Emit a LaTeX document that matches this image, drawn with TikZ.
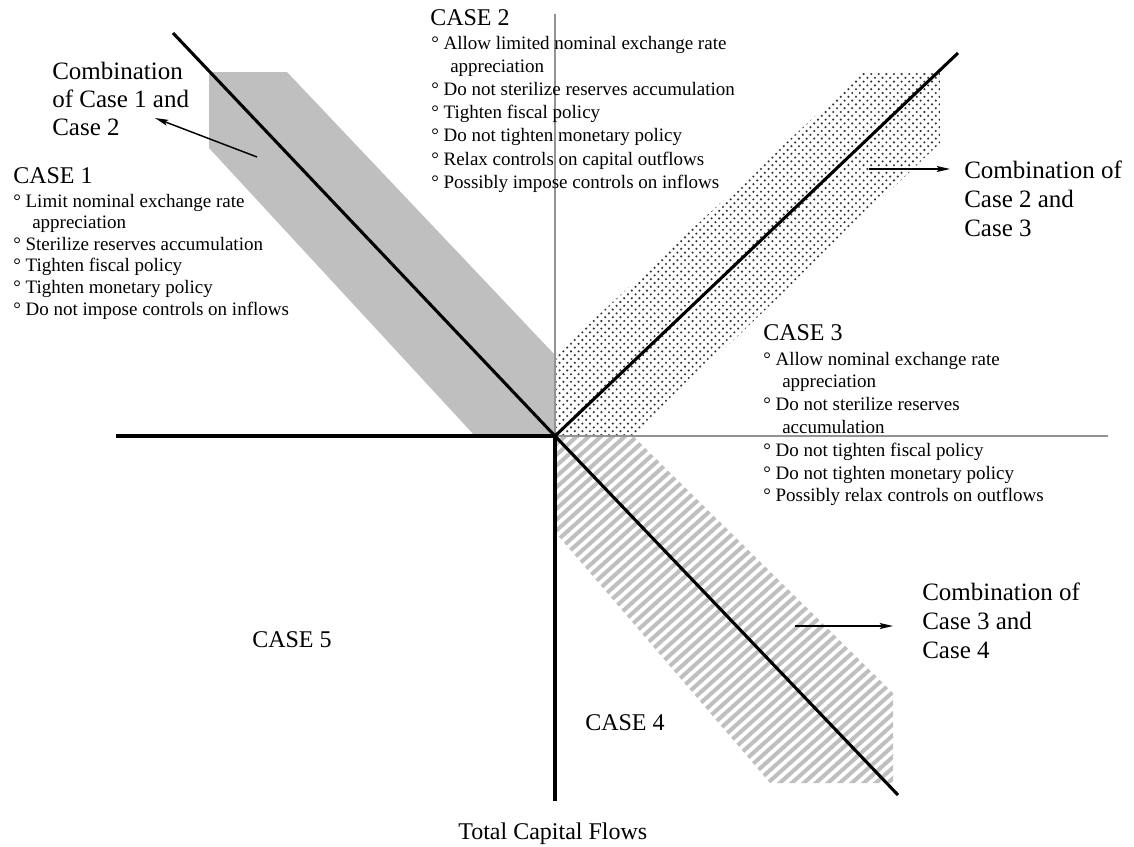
\documentclass[tikz,border=0pt]{standalone}
\usepackage{fontspec}
\setmainfont{Liberation Serif}
\usetikzlibrary{arrows.meta}
\newcommand\bpt{°\ }
\newcommand\ind{\hspace*{1em}}
\newcommand\blines[1]{\begin{tabular}[t]{@{}l@{}}#1\end{tabular}}
\tikzset{
  txt/.style={anchor=base west, inner sep=0pt},
  titlefont/.style={font=\fontsize{18}{21}\selectfont},
  combo/.style={font=\fontsize{18.75}{#1}\selectfont},
  bullets/.style={font=\fontsize{14.25}{#1}\selectfont},
  thick axis/.style={line width=2.3pt, black},
  thin axis/.style={line width=0.9pt, gray!85},
  arr/.style={line width=1.1pt, -{Stealth[length=10pt,width=4.5pt,inset=2pt]}},
  stripe/.style={draw=gray!50, line width=3pt},
  dotrow/.style={draw=black!80, line width=1.75pt, line cap=round, dash pattern=on 0pt off 5.7pt},
}
\begin{document}
\begin{tikzpicture}[x={(0.75pt,0)}, y={(0,-0.75pt)}]
\useasboundingbox (0,0) rectangle (1134,846);
% solid band
\fill[gray!50] (209,72) -- (287,72) -- (555,355) -- (555,436) -- (475,436) -- (209,148) -- cycle;
% dotted band
\begin{scope}
\clip (555,436) -- (555,355) -- (862,73) -- (940,73) -- (940,143) -- (633,436) -- cycle;
\foreach \r in {0,...,96} {
  \pgfmathsetmacro\yy{74+\r*3.8}
  \pgfmathsetmacro\ph{mod(\r,2)*2.85}
  \draw[dotrow, dash phase=\ph pt] (552,\yy) -- (945,\yy);
}
\end{scope}
% striped band
\begin{scope}
\clip (555,436) -- (633,436) -- (893,693) -- (893,783) -- (770,783) -- (555,532) -- cycle;
\foreach \c in {0,...,70} {
  \draw[stripe] (480,{880+\c*10.8-0.9*480}) -- (950,{880+\c*10.8-0.9*950});
}
\end{scope}
% axes
\coordinate (O) at (555,436);
\coordinate (gt) at (555,14);
\coordinate (gr) at (1108,436);
\coordinate (lf) at (116,436);
\coordinate (dn) at (555,801);
\coordinate (ul) at (173,33);
\coordinate (ur) at (958,53);
\coordinate (lr) at (898,795);
\draw[thin axis] (O) -- (gt);
\draw[thin axis] (O) -- (gr);
\draw[thick axis] (lf) -- (O) -- (dn);
\draw[thick axis] (ul) -- (O);
\draw[thick axis] (O) -- (ur);
\draw[thick axis] (O) -- (lr);
% texts
\node[txt, combo=21pt] (c12) at (52,79) {\blines{Combination\\of Case 1 and\\Case 2}};
\node[txt, titlefont] (case1) at (13,183) {CASE 1};
\node[txt, bullets=16.2pt] (l1) at (13,207) {\blines{\bpt Limit nominal exchange rate\\\ind appreciation\\\bpt Sterilize reserves accumulation\\\bpt Tighten fiscal policy\\\bpt Tighten monetary policy\\\bpt Do not impose controls on inflows}};
\node[txt, titlefont] (case2) at (430,26) {CASE 2};
\node[txt, bullets=17.4pt] (l2) at (431,49) {\blines{\bpt Allow limited nominal exchange rate\\\ind appreciation\\\bpt Do not sterilize reserves accumulation\\\bpt Tighten fiscal policy\\\bpt Do not tighten monetary policy\\\bpt Relax controls on capital outflows\\\bpt Possibly impose controls on inflows}};
\node[txt, titlefont] (case3) at (763,340) {CASE 3};
\node[txt, bullets=17.1pt] (l3) at (763,365) {\blines{\bpt Allow nominal exchange rate\\\ind appreciation\\\bpt Do not sterilize reserves\\\ind accumulation\\\bpt Do not tighten fiscal policy\\\bpt Do not tighten monetary policy\\\bpt Possibly relax controls on outflows}};
\node[txt, combo=22pt] (c23) at (964,178) {\blines{Combination of\\Case 2 and\\Case 3}};
\node[txt, combo=21.75pt] (c34) at (922,600) {\blines{Combination of\\Case 3 and\\Case 4}};
\node[txt, titlefont] (case5) at (252,647) {CASE 5};
\node[txt, titlefont] (case4) at (585,730) {CASE 4};
\node[txt, titlefont] (tcf) at (458,839) {Total Capital Flows};
% arrows
\coordinate (t12) at (257,157);
\coordinate (h12) at (155,118);
\coordinate (t23) at (869,169);
\coordinate (h23) at (950,169);
\coordinate (t34) at (795,626);
\coordinate (h34) at (893,626);
\draw[arr] (t12) -- (h12);
\draw[arr] (t23) -- (h23);
\draw[arr] (t34) -- (h34);
\end{tikzpicture}
\end{document}
